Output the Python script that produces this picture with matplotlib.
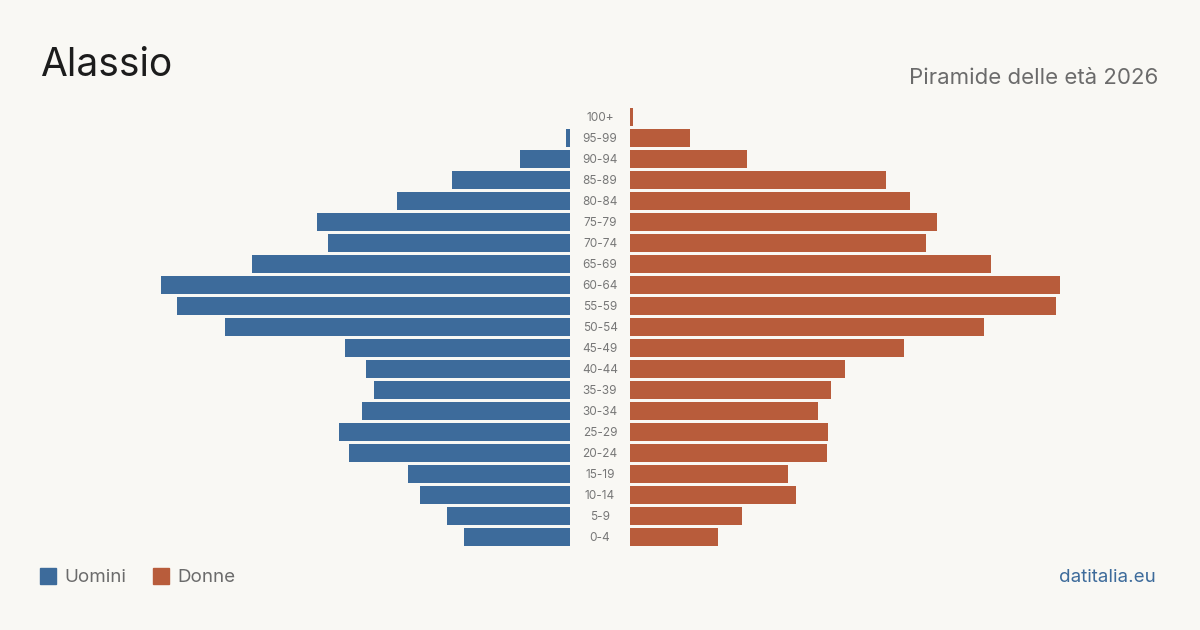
import matplotlib
matplotlib.use("Agg")
import matplotlib.pyplot as plt
from matplotlib.patches import Rectangle

age_groups = ["0-4", "5-9", "10-14", "15-19", "20-24", "25-29", "30-34", "35-39",
              "40-44", "45-49", "50-54", "55-59", "60-64", "65-69", "70-74", "75-79",
              "80-84", "85-89", "90-94", "95-99", "100+"]
men = [106, 123, 150, 162, 221, 231, 208, 196, 204, 225, 345, 393, 409, 318, 242, 253,
       173, 118, 50, 4, 0]
women = [88, 112, 166, 158, 197, 198, 188, 201, 215, 274, 354, 426, 430, 361, 296, 307,
         280, 256, 117, 60, 3]

title = "Alassio"
subtitle = "Piramide delle età 2026"
legend_labels = ["Uomini", "Donne"]
source = "datitalia.eu"

BG = "#f9f8f4"
BLUE = "#3d6b9b"
ORANGE = "#b85c3b"
FONT = ["Inter", "DejaVu Sans"]

W, H = 1200, 630
fig = plt.figure(figsize=(12, 6.3), dpi=100, facecolor=BG)

vmax = max(max(men), max(women))
y0_px, y1_px = 106.5, 547.5
bottom = (H - y1_px) / H
height = (y1_px - y0_px) / H

axL = fig.add_axes([140 / W, bottom, 430 / W, height])
axR = fig.add_axes([630 / W, bottom, 430 / W, height])
ys = list(range(len(age_groups)))
axL.barh(ys, men, height=0.81, color=BLUE)
axR.barh(ys, women, height=0.81, color=ORANGE)
axL.set_xlim(vmax, 0)
axR.set_xlim(0, vmax)
for ax in (axL, axR):
    ax.set_ylim(-0.5, len(age_groups) - 0.5)
    ax.axis("off")
    ax.set_facecolor("none")

for i, lab in enumerate(age_groups):
    ypx = y1_px - (i + 0.5) * (y1_px - y0_px) / len(age_groups) + 1
    fig.text(600 / W, 1 - ypx / H, lab, ha="center", va="center",
             fontsize=8.5, color="#777777", family=FONT)

fig.text(40 / W, 1 - 66 / H, title, ha="left", va="center", fontsize=28,
         color="#1c1c1c", family=FONT)
fig.text(1158 / W, 1 - 77.5 / H, subtitle, ha="right", va="center", fontsize=16,
         color="#6b6b6b", family=FONT)

# legend
for x_sq, x_txt, col, lab in [(40, 64, BLUE, legend_labels[0]), (153, 177, ORANGE, legend_labels[1])]:
    fig.patches.append(Rectangle((x_sq / W, 1 - 584 / H), 16 / W, 16 / H,
                                 transform=fig.transFigure, color=col))
    fig.text(x_txt / W, 1 - 577.5 / H, lab, ha="left", va="center", fontsize=13.5,
             color="#6b6b6b", family=FONT)

fig.text(1156 / W, 1 - 577.5 / H, source, ha="right", va="center", fontsize=13.5,
         color=BLUE, family=FONT)

fig.savefig("out.png", dpi=100, facecolor=BG)
